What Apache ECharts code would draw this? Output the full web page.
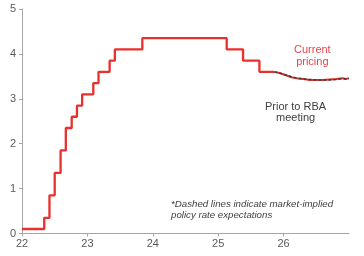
<!DOCTYPE html>
<html>
<head>
<meta charset="utf-8">
<script src="https://cdn.jsdelivr.net/npm/echarts@6/dist/echarts.min.js"></script>
<style>html,body{margin:0;padding:0;background:#fff}#c{width:364px;height:256px}</style>
</head>
<body>
<div id="c"></div>
<script>
// Cash rate (step: rate applies from the given date)
const cashDates = [22.0, 22.34, 22.42, 22.50, 22.59, 22.67, 22.76, 22.84, 22.92, 23.09, 23.17, 23.34, 23.42, 23.84, 25.13, 25.38, 25.63, 25.86];
const cashRates = [0.10, 0.35, 0.85, 1.35, 1.85, 2.35, 2.60, 2.85, 3.10, 3.35, 3.60, 3.85, 4.10, 4.35, 4.10, 3.85, 3.60, 3.60];
// Market-implied expectations
const expDates = [25.86, 25.95, 26.05, 26.12, 26.20, 26.30, 26.40, 26.50, 26.60, 26.70, 26.80, 26.90, 26.95, 27.0];
const currentPricing = [3.60, 3.57, 3.52, 3.48, 3.46, 3.44, 3.42, 3.42, 3.42, 3.43, 3.44, 3.46, 3.44, 3.46];
const priorPricing   = [3.60, 3.57, 3.52, 3.49, 3.46, 3.44, 3.43, 3.42, 3.42, 3.42, 3.43, 3.45, 3.44, 3.45];
const xTicks = [22, 23, 24, 25, 26];
const yTicks = [0, 1, 2, 3, 4, 5];

const zip = (a, b) => a.map((v, i) => [v, b[i]]);
const axisCol = '#a6a6a6';
const labCol = '#595959';
const chart = echarts.init(document.getElementById('c'), null, {renderer: 'canvas'});
chart.setOption({
  animation: false,
  grid: {left: 22, right: 15, top: 9, bottom: 22.5},
  xAxis: {
    type: 'value', min: 22, max: 27, interval: 1,
    axisLine: {lineStyle: {color: axisCol, width: 1}},
    axisTick: {show: true, length: 3, lineStyle: {color: axisCol}},
    splitLine: {show: false},
    axisLabel: {color: labCol, fontFamily: 'Liberation Sans, Arial', fontSize: 11, margin: 5,
      showMaxLabel: false,
      formatter: v => xTicks.includes(v) ? String(v) : ''}
  },
  yAxis: {
    type: 'value', min: 0, max: 5, interval: 1,
    axisLine: {show: true, lineStyle: {color: axisCol, width: 1}},
    axisTick: {show: true, length: 3, lineStyle: {color: axisCol}},
    splitLine: {show: false},
    axisLabel: {color: labCol, fontFamily: 'Liberation Sans, Arial', fontSize: 11, margin: 6,
      formatter: v => yTicks.includes(v) ? String(v) : ''}
  },
  series: [
    {type: 'line', step: 'end', data: zip(cashDates, cashRates), showSymbol: false,
     lineStyle: {color: '#e8302c', width: 2.3}, z: 3},
    {type: 'line', data: zip(expDates, currentPricing), showSymbol: false,
     lineStyle: {color: '#e8302c', width: 2}, z: 2},
    {type: 'line', data: zip(expDates, priorPricing), showSymbol: false,
     lineStyle: {color: '#3a3a3a', width: 1.5, type: [3, 2]}, z: 4}
  ],
  graphic: [
    {type: 'text', left: 294, top: 44, style: {text: 'Current\npricing', fill: '#e8454a', font: '11px "Liberation Sans", Arial', textAlign: 'center', lineHeight: 12}},
    {type: 'text', left: 265, top: 101, style: {text: 'Prior to RBA\nmeeting', fill: '#404040', font: '11px "Liberation Sans", Arial', textAlign: 'center', lineHeight: 11}},
    {type: 'text', left: 171, top: 199, style: {text: '*Dashed lines indicate market-implied\npolicy rate expectations', fill: '#404040', font: 'italic 9.7px "Liberation Sans", Arial', lineHeight: 11}}
  ]
});
</script>
</body>
</html>
